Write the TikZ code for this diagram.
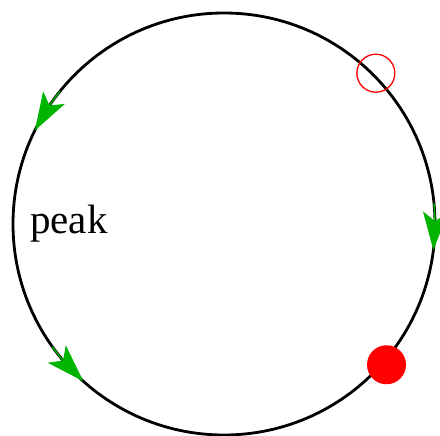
\documentclass[tikz,border=0pt]{standalone}
\usepackage{fontspec}
\setmainfont{Liberation Serif}
\usetikzlibrary{arrows.meta,bending}
\definecolor{arrowgreen}{RGB}{0,180,0}
\begin{document}
\begin{tikzpicture}[x=1pt,y=1pt,
  ring/.style={draw=black,line width=2.8pt},
  flowtip/.style={draw=arrowgreen,line width=1.4pt,
    -{Stealth[length=38pt,width=25pt,inset=9pt,fill=arrowgreen]}},
  openmark/.style={draw=red,line width=1.3pt},
  dotmark/.style={fill=red}]
\useasboundingbox (0,0) rectangle (440,436);
\coordinate (C) at (224,212);
\def\R{211}
% circle
\draw[ring] (C) circle[radius=\R];
% green arrows
\draw[flowtip] (C) ++(141:\R) arc[start angle=141,end angle=153.7,radius=\R];
\draw[flowtip] (C) ++(215.5:\R) arc[start angle=215.5,end angle=228.2,radius=\R];
\draw[flowtip] (C) ++(5.6:\R) arc[start angle=5.6,end angle=-7.1,radius=\R];
% red marks
\path (C) ++(44.8:214) coordinate (openpt);
\path (C) ++(-40.9:215) coordinate (dotpt);
\draw[openmark] (openpt) circle[radius=19];
\fill[dotmark] (dotpt) circle[radius=19.5];
% label
\node[anchor=base west,inner sep=0pt,font=\fontsize{41}{48}\selectfont] (peak) at (30,202) {peak};
\end{tikzpicture}
\end{document}
